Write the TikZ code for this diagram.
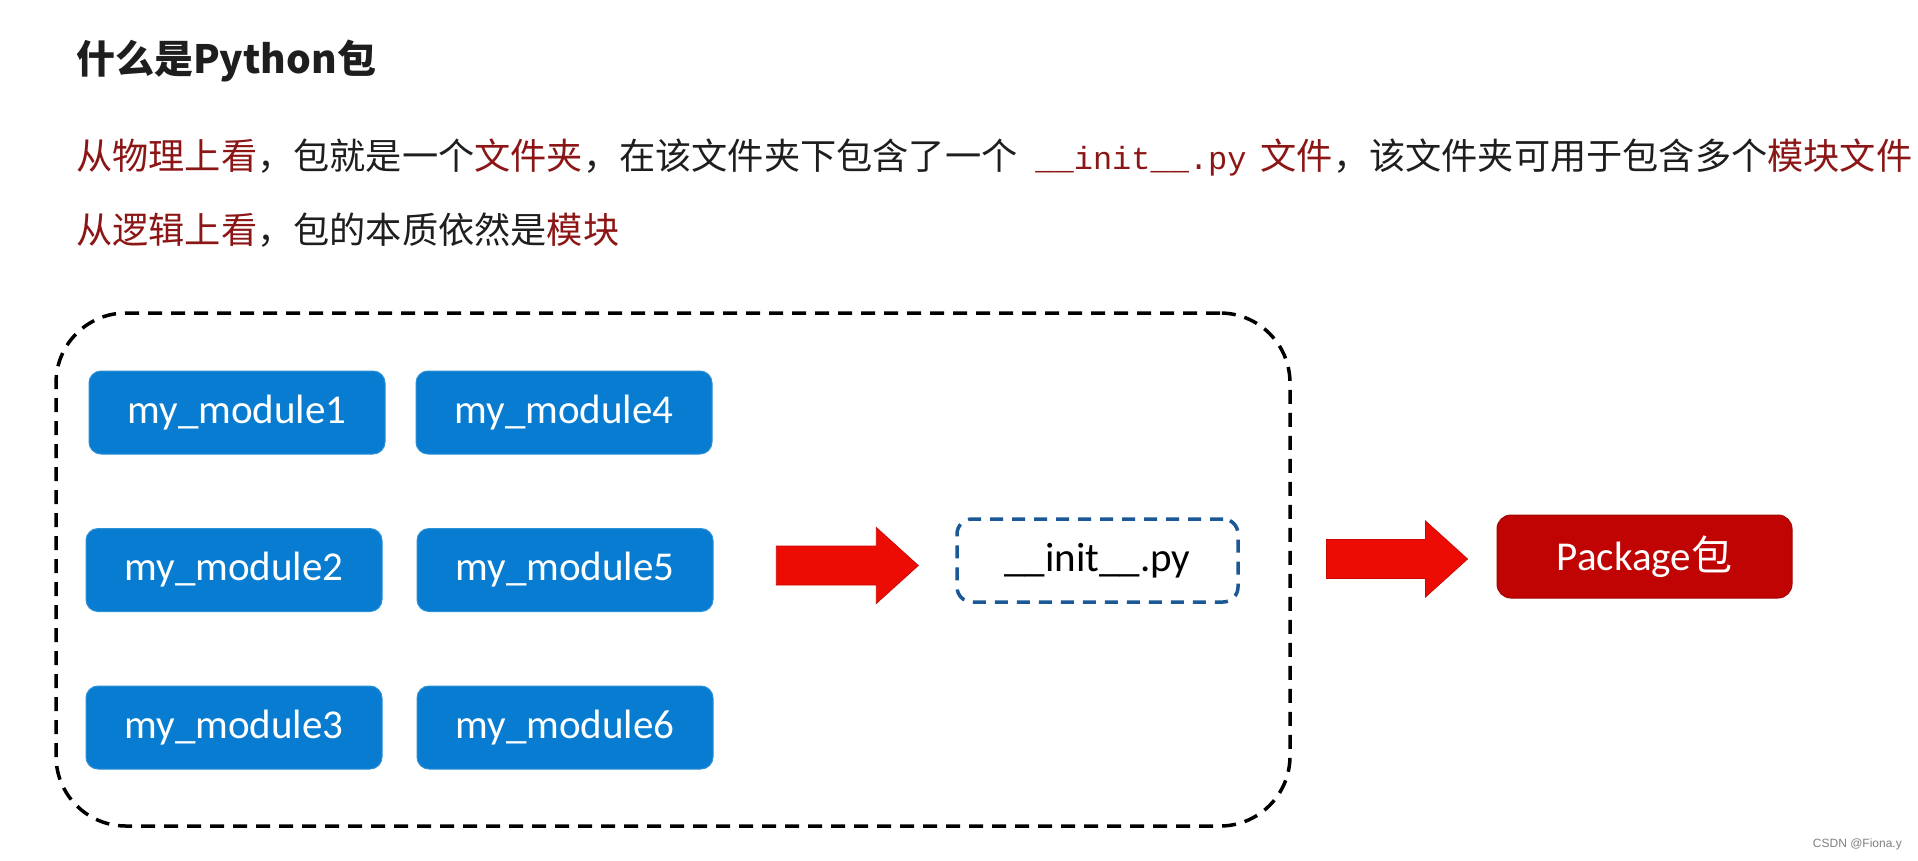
\documentclass[tikz,border=0pt]{standalone}
\usepackage{fontspec}
\usepackage{tikz}
\usetikzlibrary{calc}
\newfontfamily\cjk{Noto Sans CJK SC}
\newfontfamily\calibri{Carlito}
\newfontfamily\mono{Liberation Mono}
\newfontfamily\wm{Liberation Sans}
\definecolor{modblue}{RGB}{8,124,208}
\definecolor{pkgred}{RGB}{192,4,4}
\definecolor{arrred}{RGB}{236,12,4}
\definecolor{initblue}{RGB}{28,88,150}
\definecolor{hlred}{RGB}{140,22,22}
\definecolor{txtgray}{RGB}{30,30,30}
\tikzset{
  module/.style={rectangle, rounded corners=12pt, fill=modblue, draw=modblue!85!white, line width=1pt,
    minimum width=296pt, minimum height=83pt, inner sep=0pt, text=white, font=\calibri\fontsize{41}{48}\selectfont},
  folder/.style={rectangle, rounded corners=70pt, draw=black, line width=3.5pt, dash pattern=on 14pt off 9pt},
  initbox/.style={rectangle, rounded corners=15pt, draw=initblue, line width=3.5pt, dash pattern=on 13pt off 9pt,
    minimum width=281pt, minimum height=83pt, inner sep=0pt, font=\calibri\fontsize{41}{48}\selectfont},
  pkgbox/.style={rectangle, rounded corners=14pt, fill=pkgred, draw=pkgred!85!black, line width=1pt,
    minimum width=295pt, minimum height=83pt, inner sep=0pt, text=white, font=\calibri\fontsize{41}{48}\selectfont},
  bigarrow/.style={fill=arrred, draw=arrred!85!black, line width=0.8pt}
}
\newcommand\blockarrow[2]{%
  \draw[bigarrow] ($(#1)+(0,-19.5)$) -- ($(#2)+(-42,-19.5)$) -- ($(#2)+(-42,-38)$) -- (#2)
    -- ($(#2)+(-42,38)$) -- ($(#2)+(-42,19.5)$) -- ($(#1)+(0,19.5)$) -- cycle;}
\newcommand\hl[1]{{\color{hlred}#1}}
\begin{document}
\begin{tikzpicture}[x=1pt, y=-1pt]
    \fill[white] (0,0) rectangle (1918,860);
    \useasboundingbox (0,0) rectangle (1918,860);
    \node[anchor=west, inner sep=0pt, text=txtgray, font=\cjk\bfseries\fontsize{39}{44}\selectfont] (title) at (76,61) {什么是Python包};
    \node[anchor=west, inner sep=0pt, text=txtgray, font=\cjk\fontsize{36.2}{42}\selectfont] (line1) at (76,157)
        {\hl{从物理上看}，包就是一个\hl{文件夹}，在该文件夹下包含了一个\hspace{18pt}\hl{\mono\fontsize{32}{38}\selectfont\_\_init\_\_.py}\hspace{14pt}\hl{文件}，该文件夹可用于包含多个\hl{模块文件}};
    \node[anchor=west, inner sep=0pt, text=txtgray, font=\cjk\fontsize{36.2}{42}\selectfont] (line2) at (76,230)
        {\hl{从逻辑上看}，包的本质依然是\hl{模块}};
    \node[folder, minimum width=1234pt, minimum height=513pt] (dir) at (673,569.5) {};
    \node[module] (m1) at (237,412.5) {my\_module1};
    \node[module] (m2) at (234,570) {my\_module2};
    \node[module] (m3) at (234,727.5) {my\_module3};
    \node[module] (m4) at (564,412.5) {my\_module4};
    \node[module] (m5) at (565,570) {my\_module5};
    \node[module] (m6) at (565,727.5) {my\_module6};
    \node[initbox] (init) at (1097.5,560.5) {\_\_init\_\_.py};
    \node[pkgbox] (pkg) at (1644.5,556.5) {Package{\cjk 包}};
    \coordinate (a1s) at ($(init.west)+(-179,5)$);
    \coordinate (a1e) at ($(init.west)+(-37,5)$);
    \coordinate (a2s) at ($(pkg.west)+(-170,2.5)$);
    \coordinate (a2e) at ($(pkg.west)+(-29,2.5)$);
    \blockarrow{a1s}{a1e}
    \blockarrow{a2s}{a2e}
    \node[anchor=east, inner sep=0pt, text=gray, font=\wm\fontsize{12}{14}\selectfont] (mark) at (1902,844) {CSDN @Fiona.y};
\end{tikzpicture}
\end{document}
